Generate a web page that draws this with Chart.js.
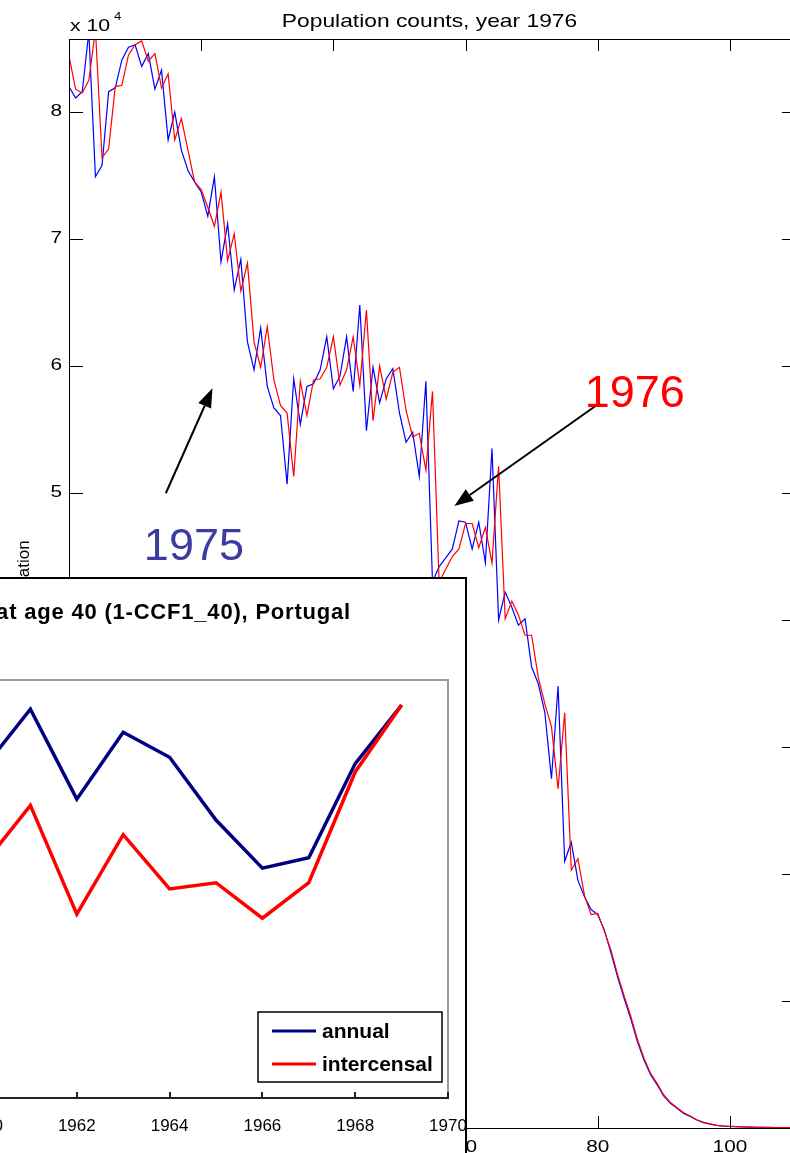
<!DOCTYPE html>
<html>
<head>
<meta charset="utf-8">
<script src="https://cdn.jsdelivr.net/npm/chart.js@4.4.1/dist/chart.umd.min.js"></script>
<style>
html, body { margin: 0; padding: 0; background: #fff; overflow: hidden; width: 790px; height: 1153px; }
#main { position: absolute; left: 0; top: 0; }
#insetBox { position: absolute; left: -10px; top: 577px; width: 473px; height: 590px;
            background: #fff; border: 2px solid #000; overflow: hidden; }
#inset { position: absolute; left: -112px; top: 0; }
</style>
</head>
<body>
<canvas id="main" width="810" height="1153"></canvas>
<div id="insetBox"><canvas id="inset" width="586" height="574"></canvas></div>
<script>
// main chart: population by age
const AGES = [
    0, 1, 2, 3, 4, 5, 6, 7, 8, 9, 10, 11, 12, 13, 14, 15, 16, 17, 18, 19,
    20, 21, 22, 23, 24, 25, 26, 27, 28, 29, 30, 31, 32, 33, 34, 35, 36, 37, 38, 39,
    40, 41, 42, 43, 44, 45, 46, 47, 48, 49, 50, 51, 52, 53, 54, 55, 56, 57, 58, 59,
    60, 61, 62, 63, 64, 65, 66, 67, 68, 69, 70, 71, 72, 73, 74, 75, 76, 77, 78, 79,
    80, 81, 82, 83, 84, 85, 86, 87, 88, 89, 90, 91, 92, 93, 94, 95, 96, 97, 98, 99,
    100, 101, 102, 103, 104, 105, 106, 107, 108, 109, 110
];
const POP_1975 = [
    82000, 81100, 81600, 86300, 74900, 75800, 81600, 81900, 84100, 85100,
    85300, 83600, 84600, 81800, 83300, 77800, 80000, 77000, 75400, 74500,
    73700, 71800, 74900, 68200, 71200, 66000, 68400, 61900, 59700, 63000,
    58400, 56700, 56100, 50700, 59000, 55400, 58400, 58600, 59700, 62300,
    58200, 59200, 62300, 58000, 64800, 54900, 59900, 57100, 59000, 59800,
    56300, 54000, 54800, 51300, 58800, 43000, 44200, 44900, 45600, 47800,
    47700, 45600, 47700, 44500, 53500, 40000, 42200, 41000, 39600, 40100,
    36300, 35000, 32700, 27500, 34800, 21000, 22500, 19500, 18200, 17200,
    16800, 15600, 13800, 11900, 10200, 8600, 6800, 5350, 4200, 3400,
    2500, 1950, 1550, 1150, 900, 630, 420, 300, 200, 150,
    120, 100, 80, 70, 60, 50, 40, 35, 30, 25, 20
];
const POP_1976 = [
    84400, 81800, 81500, 82500, 86500, 76400, 77100, 82000, 82100, 84500,
    85300, 85600, 84000, 84600, 81900, 83000, 77800, 79500, 77000, 74500,
    73900, 72500, 71000, 73700, 68300, 70400, 65900, 68100, 61900, 59900,
    63100, 58900, 56900, 56300, 51300, 58800, 56100, 58900, 59000, 59900,
    62300, 58500, 59700, 62300, 58500, 64400, 55700, 60000, 57400, 59500,
    59900, 56500, 54400, 54700, 51800, 58000, 43000, 44000, 45000, 45600,
    47600, 47600, 45700, 47300, 44500, 52100, 40100, 41500, 40400, 38800,
    38800, 35500, 33400, 31600, 26700, 32700, 20300, 21200, 18300, 16800,
    16900, 15500, 14000, 12100, 10400, 8800, 7000, 5500, 4300, 3500,
    2600, 2000, 1600, 1200, 950, 650, 450, 320, 210, 160,
    130, 110, 90, 75, 60, 50, 45, 35, 30, 25, 20
];
const AGE_TICKS = [0, 20, 40, 60, 80, 100];
const POP_TICKS = [0, 10000, 20000, 30000, 40000, 50000, 60000, 70000, 80000];
const AGE_MAX = 110;
const POP_MAX = 85750;

// inset chart
const YEARS = [1960, 1961, 1962, 1963, 1964, 1965, 1966, 1967, 1968, 1969];
const ANNUAL = [0.0958, 0.0986, 0.0943, 0.0975, 0.0963, 0.0933, 0.0910, 0.0915, 0.0960, 0.0988];
const INTERCENSAL = [0.0912, 0.0940, 0.0888, 0.0926, 0.0900, 0.0903, 0.0886, 0.0903, 0.0956, 0.0988];
const YEAR_TICKS = [1960, 1962, 1964, 1966, 1968, 1970];

// annotations, in data units of the main chart
const NOTES = [
    {text: '1975', age: 18.9, value: 44720, color: '#3c3ca0'},
    {text: '1976', age: 85.6, value: 56770, color: '#ff0000'}
];
const ARROWS = [
    {from: [14.65, 49980], to: [21.7, 58240]},
    {from: [80.3, 57090], to: [58.3, 48980]}
];

function stretchText(ctx, text, x, y, font, sx, align, baseline, color) {
    ctx.save();
    ctx.font = font;
    ctx.fillStyle = color || '#000';
    ctx.textAlign = align;
    ctx.textBaseline = baseline;
    ctx.translate(x, y);
    ctx.scale(sx, 1);
    ctx.fillText(text, 0, 0);
    ctx.restore();
}

function drawArrow(ctx, x1, y1, x2, y2) {
    var ang = Math.atan2(y2 - y1, x2 - x1);
    var len = 19, half = 7;
    var bx = x2 - len * Math.cos(ang), by = y2 - len * Math.sin(ang);
    ctx.save();
    ctx.strokeStyle = '#000';
    ctx.fillStyle = '#000';
    ctx.lineWidth = 2;
    ctx.beginPath();
    ctx.moveTo(x1, y1);
    ctx.lineTo(bx, by);
    ctx.stroke();
    ctx.beginPath();
    ctx.moveTo(x2, y2);
    ctx.lineTo(bx + half * Math.sin(ang), by - half * Math.cos(ang));
    ctx.lineTo(bx - half * Math.sin(ang), by + half * Math.cos(ang));
    ctx.closePath();
    ctx.fill();
    ctx.restore();
}

var mainDecor = {
    id: 'mainDecor',
    afterDraw: function (chart) {
        var ctx = chart.ctx, a = chart.chartArea;
        var xs = chart.scales.x, ys = chart.scales.y;
        ctx.save();
        ctx.strokeStyle = '#000';
        ctx.lineWidth = 1;
        ctx.strokeRect(a.left + 0.5, a.top + 0.5, a.right - a.left, a.bottom - a.top);

        ctx.beginPath();
        AGE_TICKS.forEach(function (v) {
            var px = Math.round(xs.getPixelForValue(v)) + 0.5;
            ctx.moveTo(px, a.top);
            ctx.lineTo(px, a.top + 12);
            ctx.moveTo(px, a.bottom);
            ctx.lineTo(px, a.bottom - 12);
        });
        POP_TICKS.forEach(function (v) {
            var py = Math.round(ys.getPixelForValue(v)) + 0.5;
            ctx.moveTo(a.left, py);
            ctx.lineTo(a.left + 14, py);
            ctx.moveTo(a.right, py);
            ctx.lineTo(a.right - 14, py);
        });
        ctx.stroke();
        ctx.restore();

        AGE_TICKS.forEach(function (v) {
            stretchText(ctx, String(v), xs.getPixelForValue(v), a.bottom + 24,
                    '16px Arial', 1.3, 'center', 'alphabetic');
        });
        POP_TICKS.forEach(function (v) {
            stretchText(ctx, String(v / 10000), a.left - 7, ys.getPixelForValue(v),
                    '16px Arial', 1.3, 'right', 'middle');
        });

        stretchText(ctx, 'Population counts, year 1976', (a.left + a.right) / 2 - 3, 27,
                '19px Arial', 1.2, 'center', 'alphabetic');
        stretchText(ctx, 'x 10', a.left + 1, 31, '17px Arial', 1.25, 'left', 'alphabetic');
        stretchText(ctx, '4', a.left + 45, 20, '11px Arial', 1.2, 'left', 'alphabetic');

        ctx.save();
        ctx.translate(29, (a.top + a.bottom) / 2 - 3);
        ctx.rotate(-Math.PI / 2);
        ctx.font = '17px Arial';
        ctx.fillStyle = '#000';
        ctx.textAlign = 'center';
        ctx.textBaseline = 'alphabetic';
        ctx.fillText('Population', 0, 0);
        ctx.restore();

        ARROWS.forEach(function (ar) {
            drawArrow(ctx, xs.getPixelForValue(ar.from[0]), ys.getPixelForValue(ar.from[1]),
                    xs.getPixelForValue(ar.to[0]), ys.getPixelForValue(ar.to[1]));
        });
        NOTES.forEach(function (n) {
            stretchText(ctx, n.text, xs.getPixelForValue(n.age), ys.getPixelForValue(n.value),
                    '45px Arial', 1, 'center', 'alphabetic', n.color);
        });
    }
};

new Chart(document.getElementById('main'), {
    type: 'line',
    data: {
        datasets: [{
                label: '1975',
                data: AGES.map(function (a, i) { return {x: a, y: POP_1975[i]}; }),
                borderColor: '#0000ff',
                borderWidth: 1.2,
                pointRadius: 0,
                tension: 0,
                order: 2
            }, {
                label: '1976',
                data: AGES.map(function (a, i) { return {x: a, y: POP_1976[i]}; }),
                borderColor: '#ff0000',
                borderWidth: 1.2,
                pointRadius: 0,
                tension: 0,
                order: 1
            }]
    },
    options: {
        responsive: false,
        animation: false,
        events: [],
        layout: {padding: {left: 0, top: 39, right: 14, bottom: 0}},
        plugins: {legend: {display: false}, tooltip: {enabled: false}},
        scales: {
            x: {
                type: 'linear', min: 0, max: AGE_MAX,
                grid: {display: false}, border: {display: false},
                ticks: {display: false},
                afterFit: function (s) { s.height = 25; }
            },
            y: {
                type: 'linear', min: 0, max: POP_MAX,
                grid: {display: false}, border: {display: false},
                ticks: {display: false},
                afterFit: function (s) { s.width = 69; }
            }
        }
    },
    plugins: [mainDecor]
});

var insetDecor = {
    id: 'insetDecor',
    afterDraw: function (chart) {
        var ctx = chart.ctx, a = chart.chartArea, xs = chart.scales.x;
        ctx.save();
        ctx.strokeStyle = '#999';
        ctx.lineWidth = 2;
        ctx.beginPath();
        ctx.moveTo(a.left, a.bottom);
        ctx.lineTo(a.left, a.top);
        ctx.lineTo(a.right, a.top);
        ctx.lineTo(a.right, a.bottom);
        ctx.stroke();
        ctx.strokeStyle = '#222';
        ctx.beginPath();
        ctx.moveTo(a.left, a.bottom);
        ctx.lineTo(a.right + 1, a.bottom);
        YEAR_TICKS.forEach(function (v) {
            var px = Math.round(xs.getPixelForValue(v));
            ctx.moveTo(px, a.bottom);
            ctx.lineTo(px, a.bottom - 6);
        });
        ctx.stroke();

        ctx.fillStyle = '#000';
        ctx.font = '17px Arial';
        ctx.textAlign = 'center';
        ctx.textBaseline = 'alphabetic';
        YEAR_TICKS.forEach(function (v) {
            ctx.fillText(String(v), xs.getPixelForValue(v), a.bottom + 33);
        });

        // title
        ctx.font = 'bold 22px Arial';
        ctx.letterSpacing = '0.8px';
        ctx.textAlign = 'right';
        ctx.fillText('at age 40 (1-CCF1_40), Portugal', 471, 40);
        ctx.letterSpacing = '0px';

        // legend
        var bw = 184, bh = 70;
        var bx = a.right - 6 - bw, by = a.bottom - 16 - bh;
        ctx.fillStyle = '#fff';
        ctx.fillRect(bx, by, bw, bh);
        ctx.strokeStyle = '#000';
        ctx.lineWidth = 1.5;
        ctx.strokeRect(bx, by, bw, bh);
        chart.data.datasets.forEach(function (ds, i) {
            var ly = by + 19 + i * 33;
            ctx.strokeStyle = ds.borderColor;
            ctx.lineWidth = 3;
            ctx.beginPath();
            ctx.moveTo(bx + 14, ly);
            ctx.lineTo(bx + 58, ly);
            ctx.stroke();
            ctx.fillStyle = '#000';
            ctx.font = 'bold 21px Arial';
            ctx.textAlign = 'left';
            ctx.fillText(ds.label, bx + 64, ly + 7);
        });
        ctx.restore();
    }
};

new Chart(document.getElementById('inset'), {
    type: 'line',
    data: {
        datasets: [{
                label: 'annual',
                data: YEARS.map(function (y, i) { return {x: y, y: ANNUAL[i]}; }),
                borderColor: '#000080',
                borderWidth: 3.5,
                pointRadius: 0,
                tension: 0,
                order: 2
            }, {
                label: 'intercensal',
                data: YEARS.map(function (y, i) { return {x: y, y: INTERCENSAL[i]}; }),
                borderColor: '#ff0000',
                borderWidth: 3.5,
                pointRadius: 0,
                tension: 0,
                order: 1
            }]
    },
    options: {
        responsive: false,
        animation: false,
        events: [],
        layout: {padding: {left: 0, top: 101, right: 18, bottom: 0}},
        plugins: {legend: {display: false}, tooltip: {enabled: false}},
        scales: {
            x: {
                type: 'linear', min: 1960, max: 1970,
                grid: {display: false}, border: {display: false},
                ticks: {display: false},
                afterFit: function (s) { s.height = 55; }
            },
            y: {
                type: 'linear', min: 0.08, max: 0.10,
                grid: {display: false}, border: {display: false},
                ticks: {display: false},
                afterFit: function (s) { s.width = 104; }
            }
        }
    },
    plugins: [insetDecor]
});
</script>
</body>
</html>
